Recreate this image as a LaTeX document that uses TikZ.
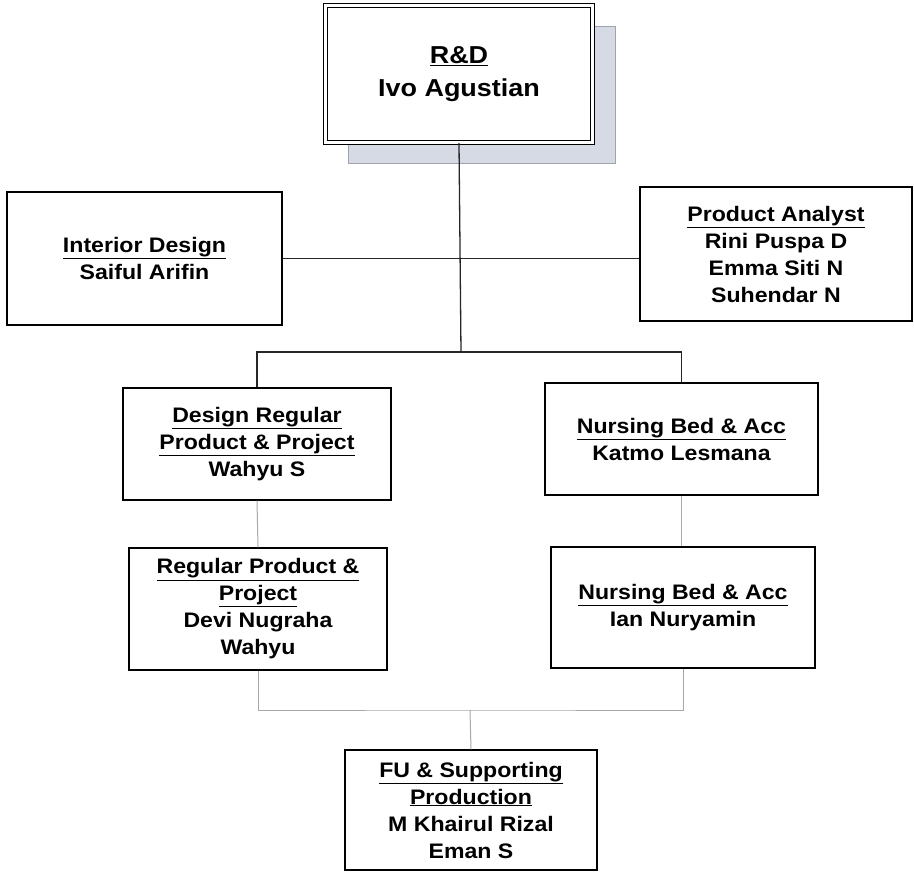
\documentclass[tikz,border=0pt]{standalone}
\usepackage{fontspec}
\setmainfont{Liberation Sans}[FakeStretch=1.1]
\usepackage{tikz}
\usetikzlibrary{shadows}

\definecolor{shadowblue}{HTML}{D6DAE4}
\definecolor{shadowline}{HTML}{A0A3AB}
\definecolor{lowline}{HTML}{A8A8A8}

\tikzset{
  unit/.style={draw, line width=1.3pt, align=center, inner sep=2pt,
    font=\fontsize{21}{27}\selectfont\bfseries},
  head/.style={draw, fill=white, line width=1.2pt, double, double distance=2.6pt,
    align=center, font=\fontsize{24.5}{33}\selectfont\bfseries,
    drop shadow={shadow xshift=23pt, shadow yshift=-21pt, fill=shadowblue,
      draw=shadowline, line width=1.5pt, opacity=1}},
  upper/.style={line width=1.3pt, black!85},
  lower/.style={line width=1pt, lowline}
}

\begin{document}
\begin{tikzpicture}[x=1pt,y=-1pt]
      \useasboundingbox (0,0) rectangle (914,874);
      \node[head, minimum width=267pt, minimum height=137pt] (rnd) at (459,74)
           {\underline{R\&D}\\Ivo Agustian};
      \node[unit, minimum width=275pt, minimum height=133pt] (interior) at (144.5,258.5)
           {\underline{Interior Design}\\Saiful Arifin};
      \node[unit, minimum width=272pt, minimum height=134pt] (analyst) at (776,254)
           {\underline{Product Analyst}\\Rini Puspa D\\Emma Siti N\\Suhendar N};
      \node[unit, minimum width=268pt, minimum height=112pt] (designreg) at (257,444)
           {\underline{Design Regular}\\\underline{Product \& Project}\\Wahyu S};
      \node[unit, minimum width=273pt, minimum height=112pt] (nursing1) at (681.5,439)
           {\underline{Nursing Bed \& Acc}\\Katmo Lesmana};
      \node[unit, minimum width=258pt, minimum height=122pt] (regular) at (258,609)
           {\underline{Regular Product \&}\\\underline{Project}\\Devi Nugraha\\Wahyu};
      \node[unit, minimum width=264pt, minimum height=121pt] (nursing2) at (683,607.5)
           {\underline{Nursing Bed \& Acc}\\Ian Nuryamin};
      \node[unit, minimum width=252pt, minimum height=120pt] (fu) at (471,810)
           {\underline{FU \& Supporting}\\\underline{Production}\\M Khairul Rizal\\Eman S};
      % junctions
      \coordinate (fork) at (461,352);
      \coordinate (merge) at (470,710);
      % upper lines
      \draw[upper] (rnd.south) -- (fork);
      \draw[upper] (interior.east) -- (interior.east -| analyst.west);
      \draw[upper] (designreg.north) |- (fork) -| (nursing1.north);
      % lower lines
      \draw[lower] (designreg.south) -- (regular.north);
      \draw[lower] (nursing1.south) -- (nursing1.south |- nursing2.north);
      \draw[lower] (regular.south) |- (merge) -| (nursing2.south);
      \draw[lower] (merge) -- (fu.north);
\end{tikzpicture}
\end{document}
